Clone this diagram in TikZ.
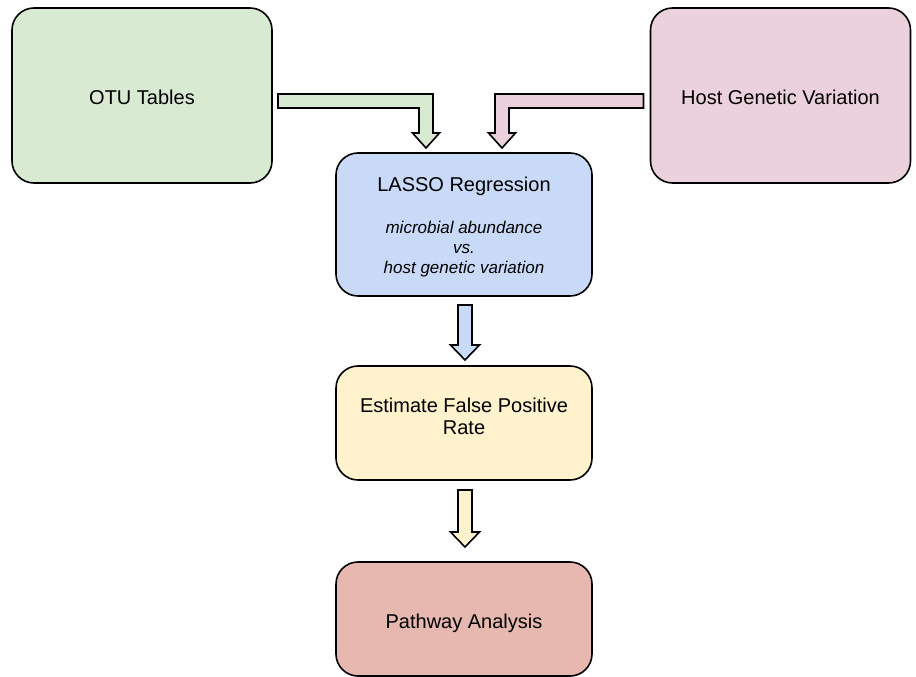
\documentclass[tikz,border=0pt]{standalone}
\usepackage{fontspec}
\setmainfont{Liberation Sans}
\usetikzlibrary{positioning, calc}

\definecolor{otugreen}{HTML}{D9EAD3}
\definecolor{hostpink}{HTML}{EAD1DC}
\definecolor{lassoblue}{HTML}{C9DAF8}
\definecolor{fpryellow}{HTML}{FFF2CC}
\definecolor{pathred}{HTML}{E6B8AF}

\newcommand{\subtext}[1]{{\fontsize{17}{20}\selectfont\itshape #1}}

\begin{document}
\begin{tikzpicture} [x=1pt, y=1pt, node distance = 70pt,
        stepbox/.style = {draw, line width=1.6pt, rounded corners=22pt, outer sep=0pt,
            minimum width=256pt, align=center, font=\fontsize{20}{23}\selectfont},
        blockarrow/.style = {draw, line width=1.6pt, line join=miter}]
        \useasboundingbox (0,0) rectangle (916,-677);

        \node (otu) [stepbox, fill=otugreen, minimum width=260pt, minimum height=175pt, text height=18pt] at (142,-95.5) {OTU Tables};
        \node (host) [stepbox, fill=hostpink, minimum width=260pt, minimum height=175pt, text height=18pt] at (780.5,-95.5) {Host Genetic Variation};
        \node (lasso) [stepbox, fill=lassoblue, minimum height=143pt] at (464,-224.5)
            {\rule{0pt}{20pt}LASSO Regression\\[19pt]\subtext{microbial abundance}\\[-3pt]\subtext{vs.}\\[-3pt]\subtext{host genetic variation}};
        \node (fpr) [stepbox, fill=fpryellow, minimum height=114pt, below = of lasso, text depth=13pt,
            font=\fontsize{20}{22}\selectfont] {Estimate False Positive\\Rate};
        \node (path) [stepbox, fill=pathred, minimum height=114pt, below = 82pt of fpr, text height=24pt] {Pathway Analysis};

        % bent arrows into the regression box
        \coordinate (ga) at ($(otu.east)+(6,1.5)$);
        \coordinate (gt) at ($(lasso.north)+(-38,5)$);
        \draw [blockarrow, fill=otugreen] (ga) -- ($(ga -| gt)+(7,0)$) -- ($(gt)+(7,15)$) -- ($(gt)+(13.5,15)$)
            -- (gt) -- ($(gt)+(-13.5,15)$) -- ($(gt)+(-7,15)$) -- ($(ga -| gt)+(-7,-14)$) -- ($(ga)+(0,-14)$) -- cycle;

        \coordinate (pa) at ($(host.west)+(-7,1.5)$);
        \coordinate (pt) at ($(lasso.north)+(38,5)$);
        \draw [blockarrow, fill=hostpink] (pa) -- ($(pa -| pt)+(-7,0)$) -- ($(pt)+(-7,15)$) -- ($(pt)+(-13.5,15)$)
            -- (pt) -- ($(pt)+(13.5,15)$) -- ($(pt)+(7,15)$) -- ($(pa -| pt)+(7,-14)$) -- ($(pa)+(0,-14)$) -- cycle;

        % straight arrows down the chain
        \coordinate (bs) at ($(lasso.south)+(1,-9)$);
        \coordinate (bt) at ($(fpr.north)+(1,6)$);
        \draw [blockarrow, fill=lassoblue] ($(bs)+(-7,0)$) -- ($(bs)+(7,0)$) -- ($(bt)+(7,15)$) -- ($(bt)+(14.5,15)$)
            -- (bt) -- ($(bt)+(-14.5,15)$) -- ($(bt)+(-7,15)$) -- cycle;

        \coordinate (ys) at ($(fpr.south)+(1,-10)$);
        \coordinate (yt) at ($(path.north)+(1,15)$);
        \draw [blockarrow, fill=fpryellow] ($(ys)+(-7,0)$) -- ($(ys)+(7,0)$) -- ($(yt)+(7,15)$) -- ($(yt)+(14.5,15)$)
            -- (yt) -- ($(yt)+(-14.5,15)$) -- ($(yt)+(-7,15)$) -- cycle;
    \end{tikzpicture}
\end{document}
